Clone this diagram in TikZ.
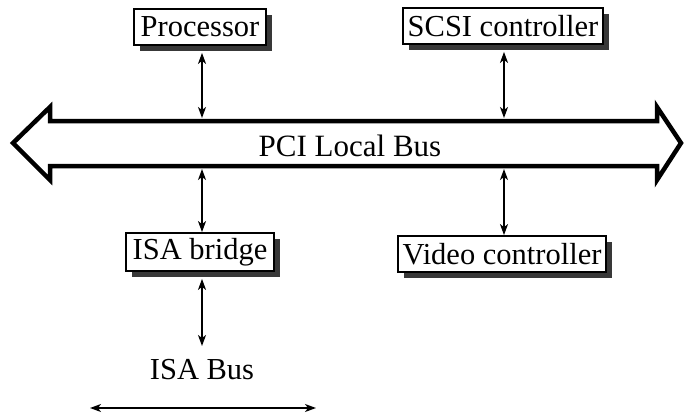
\documentclass[tikz,border=0pt]{standalone}
\usepackage{fontspec}
\setmainfont{Liberation Serif}
\usetikzlibrary{arrows.meta,shadows}
\begin{document}
\begin{tikzpicture}[x=1pt,y=-1pt,
  comp/.style={draw=black,line width=1.8pt,fill=white,inner sep=0pt,
    font=\fontsize{30.5}{32}\selectfont,
    drop shadow={shadow xshift=6pt,shadow yshift=-6pt,fill=black!78,opacity=1}},
  link/.style={line width=1.4pt,{Stealth[length=11pt,width=8pt,inset=3pt]}-{Stealth[length=11pt,width=8pt,inset=3pt]}},
  bus/.style={draw=black,line width=4.5pt,fill=white,line join=miter}]
\useasboundingbox (0,0) rectangle (684,417);
% bus arrow
\draw[bus] (13,143) -- (50,107) -- (50,121) -- (657,121) -- (657,107) -- (681,143)
  -- (657,180) -- (657,166) -- (50,166) -- (50,180) -- cycle;
\node[font=\fontsize{31}{33}\selectfont] (pci) at (350,146) {PCI Local Bus};
\coordinate (bt1) at (202,118);
\coordinate (bt2) at (504,118);
\coordinate (bb1) at (202,169);
\coordinate (bb2) at (504,169);
% components
\node[comp,minimum width=132pt,minimum height=36pt] (proc) at (200,27) {Processor};
\node[comp,minimum width=200pt,minimum height=36pt] (scsi) at (503,26) {SCSI controller};
\node[comp,minimum width=148pt,minimum height=38pt] (isa) at (200,252) {ISA bridge};
\node[comp,minimum width=208pt,minimum height=36pt] (video) at (502,254) {Video controller};
\node[font=\fontsize{30.5}{32}\selectfont] (isabus) at (202,370) {ISA Bus};
\coordinate (isatop) at (202,346);
\coordinate (busl) at (90,408);
\coordinate (busr) at (316,408);
% links
\draw[link] (bt1 |- proc.south) ++(0,7) coordinate (p1) (p1) -- (bt1);
\draw[link] (bt2 |- scsi.south) ++(0,7) coordinate (s1) (s1) -- (bt2);
\draw[link] (bb1) -- (bb1 |- isa.north);
\draw[link] (bb2) -- (bb2 |- video.north);
\draw[link] (bb1 |- isa.south) ++(0,7) coordinate (i1) (i1) -- (isatop);
\draw[link] (busl) -- (busr);
\end{tikzpicture}
\end{document}
